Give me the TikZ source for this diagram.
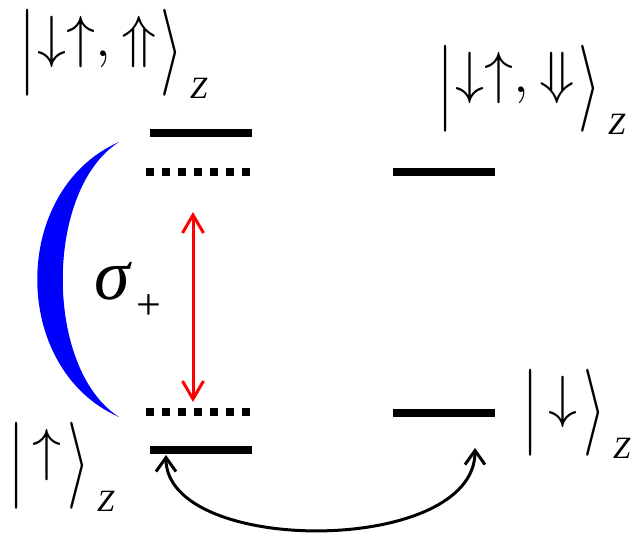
\RequirePackage{fix-cm}
\documentclass[tikz,border=0pt]{standalone}
\usepackage{amsmath}
\usepackage{graphicx}
\usepackage{fontspec}
\setmainfont{Liberation Serif}
\usetikzlibrary{arrows.meta}

\newcommand{\zket}[1]{\raisebox{-18pt}{\scalebox{1}[1.5]{$|$}}#1\raisebox{-18pt}{\scalebox{1}[1.5]{$\rangle$}}\hspace{7pt}\raisebox{-42pt}{\fontsize{31}{31}\selectfont\itshape Z}}

\begin{document}
\begin{tikzpicture}[x=1pt, y=-1pt, line width=3pt]
    \tikzstyle{level} = [fill=black, minimum width=102pt, minimum height=8pt, inner sep=0pt]
    \tikzstyle{virtual} = [line width=8pt, dash pattern=on 8pt off 8pt]
    \tikzstyle{ket} = [inner sep=0pt, anchor=base west, font=\fontsize{58}{70}\selectfont]
    \tikzstyle{pump} = [red, {Straight Barb[length=18pt,width=21pt]}-{Straight Barb[length=18pt,width=21pt]}]
    \tikzstyle{coupling} = [black, {Straight Barb[length=14pt,width=20pt]}-{Straight Barb[length=14pt,width=20pt]}]

    \useasboundingbox (0,0) rectangle (633,534);

    % levels
    \node[level] (e1) at (201,133) {};
    \node[level] (g1) at (201,450) {};
    \node[level] (e2) at (444,172) {};
    \node[level] (g2) at (444,413) {};

    % virtual levels
    \draw[virtual] (146,172) -- (250,172);
    \draw[virtual] (146,412) -- (250,412);

    % cavity mirror
    \fill[blue] (119,142) .. controls (10,190) and (10,369) .. (119,417)
        .. controls (44,369) and (44,190) .. (119,142) -- cycle;

    % states
    \node[ket] (k1) at (18,57) {\zket{\hspace{2pt}$\downarrow\uparrow,\Uparrow$\hspace{4pt}}};
    \node[ket] (k2) at (436,92.5) {\zket{\hspace{2pt}$\downarrow\uparrow,\Downarrow$\hspace{4pt}}};
    \node[ket] (k3) at (7,469.5) {\zket{\hspace{8pt}$\uparrow$\hspace{6pt}}};
    \node[ket] (k4) at (521,417) {\zket{\hspace{10pt}$\downarrow$\hspace{6pt}}};

    \node[inner sep=0pt, anchor=base west, font=\fontsize{72}{80}\selectfont] (sig) at (93,300)
        {\itshape σ\upshape\hspace{6pt}\raisebox{-20pt}{\fontsize{44}{44}\selectfont +}};

    % pump and coupling
    \coordinate (pT) at (193,212);
    \coordinate (pB) at (193,402);
    \draw[pump] (pT) -- (pB);

    \coordinate (cL) at (166,455);
    \coordinate (cR) at (475,448);
    \draw[coupling] (cL) .. controls (166,556) and (475,556) .. (cR);
\end{tikzpicture}
\end{document}
